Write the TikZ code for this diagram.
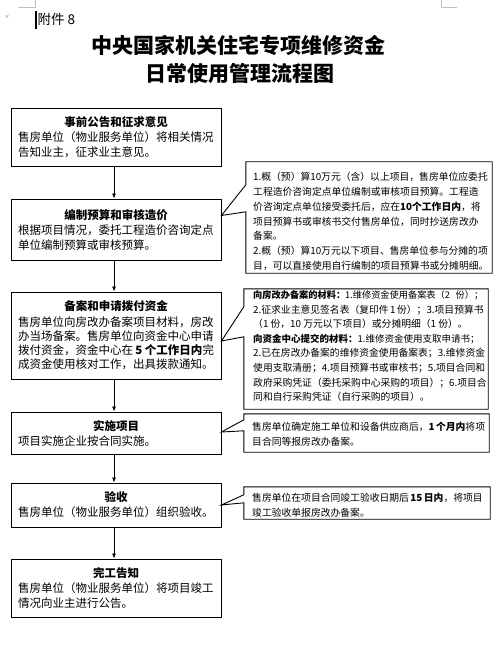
\documentclass[tikz,border=0pt]{standalone}
\usepackage{fontspec}
\setmainfont{Noto Sans CJK SC}
\usetikzlibrary{calc,arrows.meta}
\XeTeXlinebreaklocale "zh"
\XeTeXlinebreakskip=0pt plus 3pt minus 1.6pt
\newcommand\mj[1]{\makebox[196pt][s]{#1}}
\newcommand\ml[1]{\makebox[196pt][l]{#1}}
\newcommand\cj[1]{\makebox[230pt][s]{#1}}
\newcommand\cl[1]{\makebox[230pt][l]{#1}}
\definecolor{markgray}{HTML}{BFBFBF}
\tikzset{
  mainbox/.style={draw, line width=0.9pt, minimum width=210pt, inner xsep=7pt, inner ysep=0pt,
    align=center, font=\fontsize{11.5}{15}\selectfont},
  cbox/.style={draw=none, inner sep=0pt},
  cline/.style={draw, line width=0.9pt, line join=miter},
  ctext/.style={anchor=west, inner sep=0pt, align=left},
  arr/.style={-{Latex[length=5pt,width=4pt]}, line width=0.8pt},
  titlefont/.style={inner sep=0pt, font=\bfseries\fontsize{21}{21}\selectfont},
  pagemark/.style={draw=markgray, line width=0.8pt}
}
\begin{document}
\begin{tikzpicture}[x=1pt,y=-1pt]
\useasboundingbox[fill=white] (0,0) rectangle (502,647);

% page marks
\draw[pagemark] (18,7) -- (35,7) -- (35,0);
\draw[pagemark] (441,0) -- (441,7) -- (457,7);
\fill[markgray] (5,15.5) -- (9,15.5) -- (7,18) -- cycle;
\draw[line width=1.6pt] (36,11) -- (36,29);

% header and title
\node[anchor=west, inner sep=0pt, font=\fontsize{13.5}{13.5}\selectfont] (att) at (37.5,19) {附件 8};
\node[titlefont] (tt1) at (238.5,45.5) {中央国家机关住宅专项维修资金};
\node[titlefont] (tt2) at (239.5,73.5) {日常使用管理流程图};

% main boxes
\node[mainbox, minimum height=58pt] (b1) at (116,137) {\textbf{事前公告和征求意见}\\ \mj{售房单位（物业服务单位）将相关情况}\\ \ml{告知业主，征求业主意见。}};
\node[mainbox, minimum height=61pt] (b2) at (116,229.5) {\textbf{编制预算和审核造价}\\ \mj{根据项目情况，委托工程造价咨询定点}\\ \ml{单位编制预算或审核预算。}};
\node[mainbox, minimum height=87pt, font=\fontsize{11.5}{14.3}\selectfont] (b3) at (116,335.5) {\textbf{备案和申请拨付资金}\\[1pt] \mj{售房单位向房改办备案项目材料，房改}\\ \mj{办当场备案。售房单位向资金中心申请}\\ \mj{拨付资金，资金中心在 \textbf{5 个工作日内}完}\\ \ml{成资金使用核对工作，出具拨款通知。}};
\node[mainbox, minimum height=42pt] (b4) at (116,433) {\textbf{实施项目}\\ \ml{项目实施企业按合同实施。}};
\node[mainbox, minimum height=44pt] (b5) at (116,505) {\textbf{验收}\\ \ml{售房单位（物业服务单位）组织验收。}};
\node[mainbox, minimum height=58pt] (b6) at (116,588) {\textbf{完工告知}\\ \mj{售房单位（物业服务单位）将项目竣工}\\ \ml{情况向业主进行公告。}};

% arrows
\draw[arr] ($(b1.south)+(-2,0)$) -- ($(b2.north)+(-2,0)$);
\draw[arr] ($(b2.south)+(-2,0)$) -- ($(b3.north)+(-2,0)$);
\draw[arr] ($(b3.south)+(-2,0)$) -- ($(b4.north)+(-2,0)$);
\draw[arr] ($(b4.south)+(-2,0)$) -- ($(b5.north)+(-2,0)$);
\draw[arr] ($(b5.south)+(-2,0)$) -- ($(b6.north)+(-2,0)$);

% callout 1
\node[cbox, minimum width=246pt, minimum height=111pt] (c1) at (369,217.5) {};
\draw[cline] (c1.north west) -- (c1.north east) -- (c1.south east) -- (c1.south west)
  -- ($(c1.north west)+(0,50)$) -- ($(b2.east)+(0,-14)$) -- ($(c1.north west)+(0,23)$) -- cycle;
\node[ctext, font=\fontsize{9.8}{14.8}\selectfont] (t1) at (253,221.5) {\cj{1.概（预）算10万元（含）以上项目，售房单位应委托}\\
\cj{工程造价咨询定点单位编制或审核项目预算。工程造}\\
\cj{价咨询定点单位接受委托后，应在\textbf{10个工作日内}，将}\\
\cj{项目预算书或审核书交付售房单位，同时抄送房改办}\\
\cl{备案。}\\
\cj{2.概（预）算10万元以下项目、售房单位参与分摊的项}\\
\cj{目，可以直接使用自行编制的项目预算书或分摊明细。}};

% callout 2
\node[cbox, minimum width=244pt, minimum height=120pt] (c2) at (366,349) {};
\draw[cline] (c2.north west) -- (c2.north east) -- (c2.south east) -- (c2.south west)
  -- ($(c2.north west)+(0,48)$) -- ($(b3.east)+(0,5.5)$) -- ($(c2.north west)+(0,18)$) -- cycle;
\node[ctext, font=\fontsize{9.8}{14.6}\selectfont] (t2) at (253,346) {\cj{\fontsize{9.2}{14.6}\selectfont\textbf{向房改办备案的材料：}1.维修资金使用备案表（2 份）；}\\
\cj{2.征求业主意见签名表（复印件 1 份）；3.项目预算书}\\
\cl{（1 份，10 万元以下项目）或分摊明细（1 份）。}\\
\cj{\fontsize{9.5}{14.6}\selectfont\textbf{向资金中心提交的材料：}1.维修资金使用支取申请书；}\\
\cj{2.已在房改办备案的维修资金使用备案表；3.维修资金}\\
\cj{使用支取清册；4.项目预算书或审核书；5.项目合同和}\\
\cj{政府采购凭证（委托采购中心采购的项目）；6.项目合}\\
\cl{同和自行采购凭证（自行采购的项目）。}};

% callout 3
\node[cbox, minimum width=245pt, minimum height=38pt] (c3) at (366.5,433) {};
\draw[cline] (c3.north west) -- (c3.north east) -- (c3.south east) -- (c3.south west)
  -- ($(c3.north west)+(0,17)$) -- ($(b4.east)+(0,-1)$) -- ($(c3.north west)+(0,6)$) -- cycle;
\node[ctext, font=\fontsize{9.8}{15}\selectfont] (t3) at (252,434.5) {\cj{售房单位确定施工单位和设备供应商后，\textbf{1 个月内}将项}\\
\cl{目合同等报房改办备案。}};

% callout 4
\node[cbox, minimum width=246pt, minimum height=32pt] (c4) at (367,503) {};
\draw[cline] (c4.north west) -- (c4.north east) -- (c4.south east) -- (c4.south west)
  -- ($(c4.north west)+(0,16)$) -- ($(b5.east)+(0,0)$) -- ($(c4.north west)+(0,8)$) -- cycle;
\node[ctext, font=\fontsize{9.8}{15}\selectfont] (t4) at (252,505.5) {\cj{售房单位在项目合同竣工验收日期后 \textbf{15 日内}，将项目}\\
\cl{竣工验收单报房改办备案。}};
\end{tikzpicture}
\end{document}
